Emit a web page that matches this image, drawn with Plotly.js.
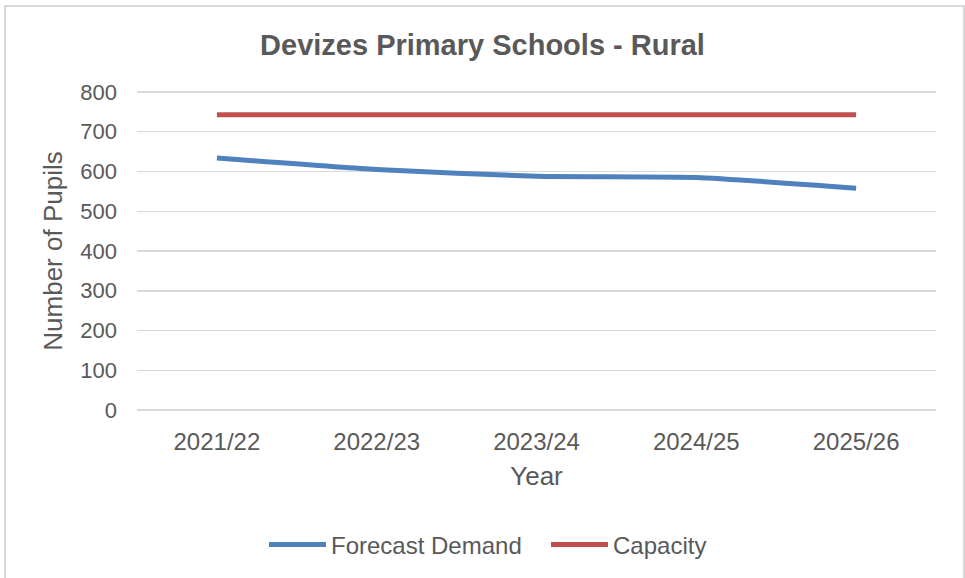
<!DOCTYPE html>
<html>
<head>
<meta charset="utf-8">
<script src="https://cdn.plot.ly/plotly-3.0.1.min.js"></script>
<style>
  html, body { margin: 0; padding: 0; background: #ffffff; }
  #chart { width: 965px; height: 578px; }
</style>
</head>
<body>
<div id="chart"></div>
<script>
const years = ["2021/22", "2022/23", "2023/24", "2024/25", "2025/26"];
const forecastDemand = [634, 605, 588, 585, 558];
const capacity = [743, 743, 743, 743, 743];
const yTicks = [0, 100, 200, 300, 400, 500, 600, 700, 800];

const FONT = "Liberation Sans, Arial, sans-serif";
const GREY = "#595959";

const traces = [
  {
    x: years, y: forecastDemand, type: "scatter", mode: "lines",
    name: "Forecast Demand",
    line: { color: "#4f81bd", width: 5, shape: "spline", smoothing: 0.5 }
  },
  {
    x: years, y: capacity, type: "scatter", mode: "lines",
    name: "Capacity",
    line: { color: "#c0504d", width: 5 }
  }
];

const W = 965, H = 578;
const m = { l: 137, r: 29, t: 90, b: 166, autoexpand: false };
const pw = W - m.l - m.r, ph = H - m.t - m.b;
function px2paperX(px) { return (px - m.l) / pw; }
function px2paperY(py) { return (H - m.b - py) / ph; }

const layout = {
  width: W, height: H,
  margin: m,
  paper_bgcolor: "#ffffff",
  plot_bgcolor: "#ffffff",
  font: { family: FONT, color: GREY },
  title: {
    text: "<b>Devizes Primary Schools - Rural</b>",
    font: { family: FONT, size: 29, color: GREY },
    x: 0.5, xanchor: "center",
    y: 1 - 45 / H, yanchor: "middle", yref: "container"
  },
  xaxis: {
    type: "category",
    range: [-0.5, 4.5],
    showgrid: false,
    zeroline: false,
    showline: false,
    ticks: "",
    tickfont: { family: FONT, size: 24, color: GREY },
    ticklabelstandoff: 13,
    title: { text: "Year", font: { family: FONT, size: 26, color: GREY }, standoff: 12 },
    fixedrange: true
  },
  yaxis: {
    range: [-5, 805],
    tickvals: yTicks,
    ticktext: yTicks.map(String),
    showgrid: true,
    gridcolor: "#d9d9d9",
    gridwidth: 1.5,
    zeroline: false,
    showline: false,
    ticks: "",
    tickfont: { family: FONT, size: 22, color: GREY },
    ticklabelstandoff: 19,
    title: { text: "Number of Pupils", font: { family: FONT, size: 26, color: GREY }, standoff: 10 },
    fixedrange: true
  },
  showlegend: true,
  legend: {
    orientation: "h",
    x: px2paperX(264), xanchor: "left",
    y: px2paperY(545), yanchor: "middle",
    font: { family: FONT, size: 24, color: GREY },
    itemwidth: 57,
    entrywidth: 210,
    entrywidthmode: "pixels",
    tracegroupgap: 0
  },
  shapes: [
    {
      type: "rect", xref: "paper", yref: "paper",
      x0: px2paperX(5), x1: px2paperX(964),
      y0: px2paperY(590), y1: px2paperY(6),
      line: { color: "#d9d9d9", width: 2 },
      fillcolor: "rgba(0,0,0,0)",
      layer: "below"
    }
  ]
};

Plotly.newPlot("chart", traces, layout, { displayModeBar: false, staticPlot: true });
</script>
</body>
</html>
